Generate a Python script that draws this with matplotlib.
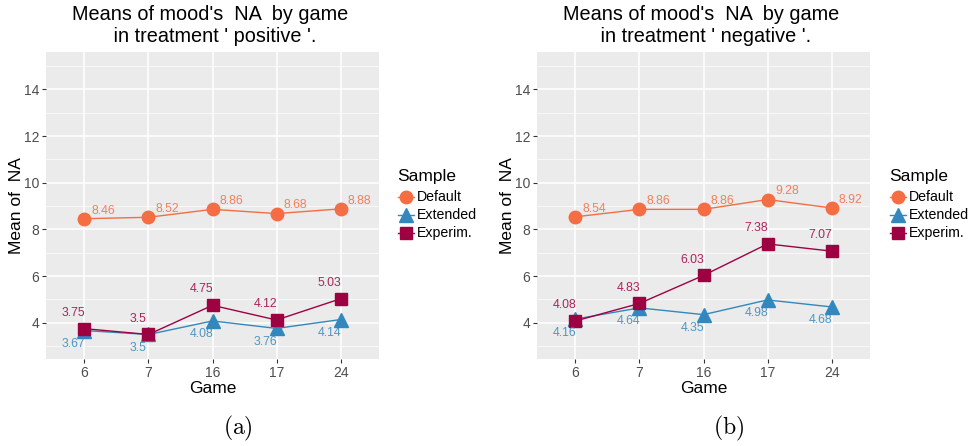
import numpy as np
import matplotlib
matplotlib.use("Agg")
import matplotlib.pyplot as plt

# data
games = ["6", "7", "16", "17", "24"]
samples = ["Default", "Extended", "Experim."]
treatments = ["positive", "negative"]
captions = ["(a)", "(b)"]

na_positive = {
    "Default": [8.46, 8.52, 8.86, 8.68, 8.88],
    "Extended": [3.67, 3.5, 4.08, 3.76, 4.14],
    "Experim.": [3.75, 3.5, 4.75, 4.12, 5.03],
}
na_negative = {
    "Default": [8.54, 8.86, 8.86, 9.28, 8.92],
    "Extended": [4.16, 4.64, 4.35, 4.98, 4.68],
    "Experim.": [4.08, 4.83, 6.03, 7.38, 7.07],
}

colors = {"Default": "#F46D43", "Extended": "#3288BD", "Experim.": "#9E0142"}
markers = {"Default": "o", "Extended": "^", "Experim.": "s"}
msizes = {"Default": 9, "Extended": 10, "Experim.": 9}
# label offsets (x, y) in data units
nudges = {"Default": (0.3, 0.35), "Extended": (-0.17, -0.58), "Experim.": (-0.17, 0.68)}

plt.rcParams["font.family"] = ["Liberation Sans", "DejaVu Sans"]
plt.rcParams["mathtext.fontset"] = "cm"

W, H = 970, 446
fig = plt.figure(figsize=(W / 100, H / 100), dpi=100)


def px_axes(left, top, right, bottom):
    return fig.add_axes([left / W, 1 - bottom / H, (right - left) / W, (bottom - top) / H])


def draw_legend(x0, y_title, y_keys, key_w=18, key_h=18):
    """ggplot-style legend: title plus grey key boxes with line + marker."""
    fig.text(x0 / W, 1 - y_title / H, "Sample", fontsize=12.5, ha="left", va="center")
    for i, s in enumerate(samples):
        top = y_keys + i * key_h
        kax = px_axes(x0, top, x0 + key_w, top + key_h)
        kax.set_facecolor("#F2F2F2")
        kax.set_xlim(0, 1)
        kax.set_ylim(0, 1)
        kax.plot([0.05, 0.95], [0.5, 0.5], color=colors[s], lw=1.0)
        kax.plot([0.5], [0.5], marker=markers[s], ms=msizes[s], color=colors[s],
                 clip_on=False)
        kax.set_axis_off()
        kax.patch.set_visible(True)
        fig.text((x0 + key_w + 2) / W, 1 - (top + key_h / 2) / H, s,
                 fontsize=10.2, ha="left", va="center")


def draw_panel(ax, data, treatment, caption):
    x = np.arange(1, len(games) + 1)
    ax.set_facecolor("#EBEBEB")
    for s in samples:
        y = np.asarray(data[s])
        ax.plot(x, y, color=colors[s], lw=1.0, marker=markers[s], ms=msizes[s],
                mec=colors[s], mfc=colors[s], zorder=3)
        dx, dy = nudges[s]
        for xi, yi in zip(x, y):
            ax.text(xi + dx, yi + dy, f"{yi:g}", color=colors[s], alpha=0.85,
                    fontsize=8.8, ha="center", va="center", zorder=4)

    ax.set_xlim(0.4, 5.6)
    ax.set_ylim(2.45, 15.6)
    ax.set_xticks(x)
    ax.set_xticklabels(games)
    ax.set_yticks([4, 6, 8, 10, 12, 14])
    ax.set_yticks(np.arange(3, 16, 2), minor=True)
    ax.set_xticks([], minor=True)
    ax.grid(which="major", color="white", lw=1.1)
    ax.grid(which="minor", axis="y", color="white", lw=0.5)
    ax.set_axisbelow(True)
    for sp in ax.spines.values():
        sp.set_visible(False)
    ax.tick_params(which="major", length=3, width=0.8, color="#333333",
                   labelcolor="#4D4D4D", labelsize=10, pad=2)
    ax.tick_params(which="minor", length=0)

    ax.set_xlabel("Game", fontsize=12.5, labelpad=1)
    ax.set_ylabel("Mean of  NA", fontsize=12.5, labelpad=-0.5)

    bb = ax.get_position()
    cx = (bb.x0 + bb.x1) / 2
    fig.text(cx, 1 - 5 / H, f"Means of mood's  NA  by game \n in treatment ' {treatment} '.",
             ha="center", va="top", fontsize=14.3, multialignment="center", linespacing=1.2)
    fig.text(cx + 0.026, 1 - 428 / H, r"$\mathrm{" + caption + "}$",
             ha="center", va="center", fontsize=17)


ax_a = px_axes(46, 52, 379, 359)
ax_b = px_axes(537, 52, 870, 359)
draw_panel(ax_a, na_positive, treatments[0], captions[0])
draw_panel(ax_b, na_negative, treatments[1], captions[1])
draw_legend(397, 176, 188)
draw_legend(889, 176, 188)

fig.savefig("out.png", dpi=100)
